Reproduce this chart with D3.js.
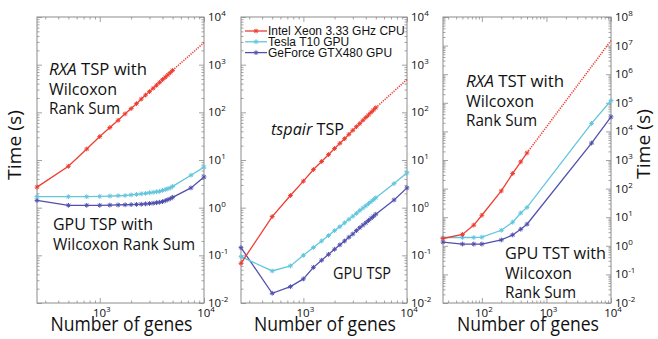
<!DOCTYPE html>
<html>
<head>
<meta charset="utf-8">
<script src="https://cdn.jsdelivr.net/npm/d3@7"></script>
<style>
  body { margin: 0; background: #fff; }
  svg text { font-family: "Open Sans", sans-serif; fill: #111; }
  .legend text { font-family: "Liberation Sans", Arial, sans-serif; }
</style>
</head>
<body>
<svg id="chart" width="658" height="339"></svg>
<script>
//
// Data
//

// number of genes sampled
const genesCpu = [250, 500, 750, 1000, 1250, 1500, 1750, 2000, 2250, 2500,
  2750, 3000, 3250, 3500, 3750, 4000, 4250, 4500, 4750, 5000];
const genesGpu = [250, 500, 750, 1000, 1250, 1500, 1750, 2000, 2250, 2500,
  2750, 3000, 3250, 3500, 3750, 4000, 4250, 4500, 4750, 5000, 7500, 10000];
const genesExtrap = [5000, 10000];
const genesTstCpu = [25, 50, 75, 100, 200, 300, 400, 500];
const genesTstGpu = [25, 50, 75, 100, 200, 300, 400, 500, 5000, 10000];
const genesTstExtrap = [500, 10000];

// panel 1: RXA TSP with Wilcoxon rank sum (seconds)
const wrsCpu = [2.7, 7.4, 17, 31, 48, 68, 93, 120, 152, 190,
  230, 272, 320, 370, 425, 485, 545, 610, 680, 760];
const wrsCpuExtrap = [760, 2900];
const wrsTesla = [1.7, 1.7, 1.7, 1.72, 1.75, 1.78, 1.8, 1.85, 1.9, 1.95,
  2.0, 2.05, 2.1, 2.15, 2.2, 2.3, 2.4, 2.5, 2.6, 2.8, 4.8, 7.1];
const wrsGtx = [1.42, 1.12, 1.12, 1.12, 1.13, 1.14, 1.15, 1.16, 1.17, 1.18,
  1.2, 1.22, 1.24, 1.27, 1.3, 1.34, 1.4, 1.47, 1.55, 1.65, 2.6, 4.4];

// panel 2: tspair TSP
const tspCpu = [0.068, 0.65, 1.8, 3.6, 6.3, 9.3, 13, 17.4, 22.4, 28,
  34.6, 42, 50, 58, 68, 78, 88, 100, 112, 125];
const tspCpuExtrap = [125, 490];
const tspTesla = [0.094, 0.047, 0.06, 0.1, 0.146, 0.2, 0.26, 0.33, 0.4, 0.48,
  0.57, 0.66, 0.76, 0.87, 0.98, 1.09, 1.21, 1.34, 1.47, 1.61, 3.2, 5.4];
const tspGtx = [0.145, 0.016, 0.022, 0.032, 0.056, 0.079, 0.105, 0.134, 0.166, 0.2,
  0.24, 0.28, 0.33, 0.38, 0.43, 0.48, 0.54, 0.6, 0.66, 0.73, 1.45, 2.6];

// panel 3: RXA TST with Wilcoxon rank sum
const tstCpu = [1.8, 2.5, 5.3, 11.7, 83, 338, 860, 1770];
const tstCpuExtrap = [1770, 1.5e7];
const tstTesla = [1.95, 1.95, 1.95, 2.0, 3.5, 6.7, 14, 22, 19000, 120000];
const tstGtx = [1.35, 1.15, 1.15, 1.15, 1.6, 2.4, 3.8, 5.7, 3900, 32000];

// text
const seriesNames = ['Intel Xeon 3.33 GHz CPU', 'Tesla T10 GPU', 'GeForce GTX480 GPU'];
const xLabel = 'Number of genes';
const yLabel = 'Time (s)';

//
// Set-up
//

const colors = ['#ee3d31', '#62c6dd', '#5050ae'];
const boxColor = '#8c8c8c';
const plotTop = 17, plotBottom = 303;

const svg = d3.select('#chart');

const zip = (xs, ys) => xs.map((x, i) => [x, ys[i]]);

const panels = [
  {
    x0: 37, x1: 204, xDom: [250, 1e4], yDom: [1e-2, 1e4],
    series: [
      { pts: zip(genesCpu, wrsCpu), c: 0 },
      { pts: zip(genesGpu, wrsTesla), c: 1 },
      { pts: zip(genesGpu, wrsGtx), c: 2 }
    ],
    extrap: zip(genesExtrap, wrsCpuExtrap),
    notes: [
      { x: 49, y: 75, lines: [[['RXA', true], [' TSP with', false]], [['Wilcoxon', false]], [['Rank Sum', false]]], w: [98, 68, 71] },
      { x: 53, y: 230, lines: [[['GPU TSP with', false]], [['Wilcoxon Rank Sum', false]]], w: [100, 142] }
    ]
  },
  {
    x0: 241, x1: 407, xDom: [250, 1e4], yDom: [1e-2, 1e4],
    series: [
      { pts: zip(genesCpu, tspCpu), c: 0 },
      { pts: zip(genesGpu, tspTesla), c: 1 },
      { pts: zip(genesGpu, tspGtx), c: 2 }
    ],
    extrap: zip(genesExtrap, tspCpuExtrap),
    notes: [
      { x: 271, y: 135, lines: [[['tspair', true], [' TSP', false]]], w: [73] },
      { x: 333, y: 279, lines: [[['GPU TSP', false]]], w: [58] }
    ]
  },
  {
    x0: 443, x1: 611, xDom: [25, 1e4], yDom: [1e-2, 1e8],
    series: [
      { pts: zip(genesTstCpu, tstCpu), c: 0 },
      { pts: zip(genesTstGpu, tstTesla), c: 1 },
      { pts: zip(genesTstGpu, tstGtx), c: 2 }
    ],
    extrap: zip(genesTstExtrap, tstCpuExtrap),
    notes: [
      { x: 466, y: 87, lines: [[['RXA', true], [' TST with', false]], [['Wilcoxon', false]], [['Rank Sum', false]]], w: [98, 68, 71] },
      { x: 505, y: 259, lines: [[['GPU TST with', false]], [['Wilcoxon', false]], [['Rank Sum', false]]], w: [101, 67, 71] }
    ]
  }
];

// log tick helpers
function majorTicks(dom) {
  const out = [];
  for (let e = Math.ceil(Math.log10(dom[0]) - 1e-9); e <= Math.floor(Math.log10(dom[1]) + 1e-9); e++) out.push(Math.pow(10, e));
  return out;
}
function minorTicks(dom) {
  const out = [];
  for (let e = Math.floor(Math.log10(dom[0])); e < Math.ceil(Math.log10(dom[1])); e++) {
    for (let k = 2; k <= 9; k++) {
      const v = k * Math.pow(10, e);
      if (v > dom[0] * 1.0001 && v < dom[1] * 0.9999) out.push(v);
    }
  }
  return out;
}

// "10" with a superscript exponent
function powerLabel(sel, v) {
  const e = Math.round(Math.log10(v));
  sel.append('tspan').text('10');
  sel.append('tspan').attr('dy', -5).style('font-size', '8px').text(e < 0 ? '-' + (-e) : e);
}

function drawPanel(p) {
  const x = d3.scaleLog().domain(p.xDom).range([p.x0, p.x1]);
  const y = d3.scaleLog().domain(p.yDom).range([plotBottom, plotTop]);
  const g = svg.append('g');

  // inward ticks on all four sides
  const axes = [
    [d3.axisBottom(x), `translate(0,${plotBottom})`, majorTicks(p.xDom), minorTicks(p.xDom)],
    [d3.axisTop(x), `translate(0,${plotTop})`, majorTicks(p.xDom), minorTicks(p.xDom)],
    [d3.axisLeft(y), `translate(${p.x0},0)`, majorTicks(p.yDom), minorTicks(p.yDom)],
    [d3.axisRight(y), `translate(${p.x1},0)`, majorTicks(p.yDom), minorTicks(p.yDom)]
  ];
  axes.forEach(([ax, tr, maj, min]) => {
    [[maj, -5], [min, -2.5]].forEach(([vals, len]) => {
      const a = g.append('g').attr('transform', tr)
        .call(ax.tickValues(vals).tickSize(len).tickFormat(''));
      a.select('.domain').remove();
      a.selectAll('line').attr('stroke', boxColor).attr('stroke-width', 0.8);
    });
  });

  g.append('rect')
    .attr('x', p.x0).attr('y', plotTop)
    .attr('width', p.x1 - p.x0).attr('height', plotBottom - plotTop)
    .attr('fill', 'none').attr('stroke', boxColor).attr('stroke-width', 1);

  // y tick labels on the right of the box
  majorTicks(p.yDom).forEach(v => {
    g.append('text')
      .attr('x', p.x1 + 4).attr('y', y(v) + 4)
      .style('font-size', '11.5px')
      .call(powerLabel, v);
  });

  // x tick labels
  majorTicks(p.xDom).forEach(v => {
    g.append('text')
      .attr('x', x(v) + 2).attr('y', 316.5)
      .attr('text-anchor', 'middle')
      .style('font-size', '11.5px')
      .call(powerLabel, v);
  });

  // x label
  g.append('text')
    .attr('x', (p.x0 + p.x1) / 2 + 1).attr('y', 331)
    .attr('text-anchor', 'middle')
    .attr('textLength', 142).attr('lengthAdjust', 'spacingAndGlyphs')
    .style('font-size', '19.5px')
    .text(xLabel);

  // series
  const line = d3.line().x(d => x(d[0])).y(d => y(d[1]));
  g.append('path')
    .attr('d', line(p.extrap))
    .attr('fill', 'none').attr('stroke', colors[0])
    .attr('stroke-width', 1.6).attr('stroke-dasharray', '1.2,1.2');

  p.series.slice().reverse().forEach(s => {
    g.append('path')
      .attr('d', line(s.pts))
      .attr('fill', 'none').attr('stroke', colors[s.c]).attr('stroke-width', 1.3);
    g.selectAll(null).data(s.pts).enter().append('path')
      .attr('transform', d => `translate(${x(d[0])},${y(d[1])})`)
      .attr('d', 'M-2.4,0H2.4M0,-2.4V2.4M-1.7,-1.7L1.7,1.7M-1.7,1.7L1.7,-1.7')
      .attr('fill', 'none').attr('stroke', colors[s.c]).attr('stroke-width', 1);
  });

  // annotations
  p.notes.forEach(n => {
    n.lines.forEach((segs, i) => {
      const t = g.append('text')
        .attr('x', n.x).attr('y', n.y + i * 19.5)
        .attr('textLength', n.w[i]).attr('lengthAdjust', 'spacingAndGlyphs')
        .style('font-size', '16px');
      segs.forEach(([txt, it]) => {
        t.append('tspan').style('font-style', it ? 'italic' : 'normal').text(txt);
      });
    });
  });
}

panels.forEach(drawPanel);

//
// Y labels
//

svg.append('text')
  .attr('transform', 'translate(21,145) rotate(-90)')
  .attr('text-anchor', 'middle')
  .attr('textLength', 70).attr('lengthAdjust', 'spacingAndGlyphs')
  .style('font-size', '19px')
  .text(yLabel);

svg.append('text')
  .attr('transform', 'translate(650,144) rotate(-90)')
  .attr('text-anchor', 'middle')
  .attr('textLength', 70).attr('lengthAdjust', 'spacingAndGlyphs')
  .style('font-size', '19px')
  .text(yLabel);

//
// Legend (inside the middle panel)
//

const legend = svg.append('g').attr('class', 'legend')
  .selectAll('g').data(seriesNames).enter().append('g')
  .attr('transform', (d, i) => `translate(245,${31 + i * 10.8})`);

legend.append('line')
  .attr('x1', 0).attr('x2', 22)
  .attr('stroke', (d, i) => colors[i]).attr('stroke-width', 1.3);

legend.append('path')
  .attr('transform', 'translate(11,0)')
  .attr('d', 'M-2.4,0H2.4M0,-2.4V2.4M-1.7,-1.7L1.7,1.7M-1.7,1.7L1.7,-1.7')
  .attr('fill', 'none').attr('stroke', (d, i) => colors[i]).attr('stroke-width', 1);

legend.append('text')
  .attr('x', 23).attr('y', 4.3)
  .style('font-size', '12px')
  .text(d => d);
</script>
</body>
</html>
